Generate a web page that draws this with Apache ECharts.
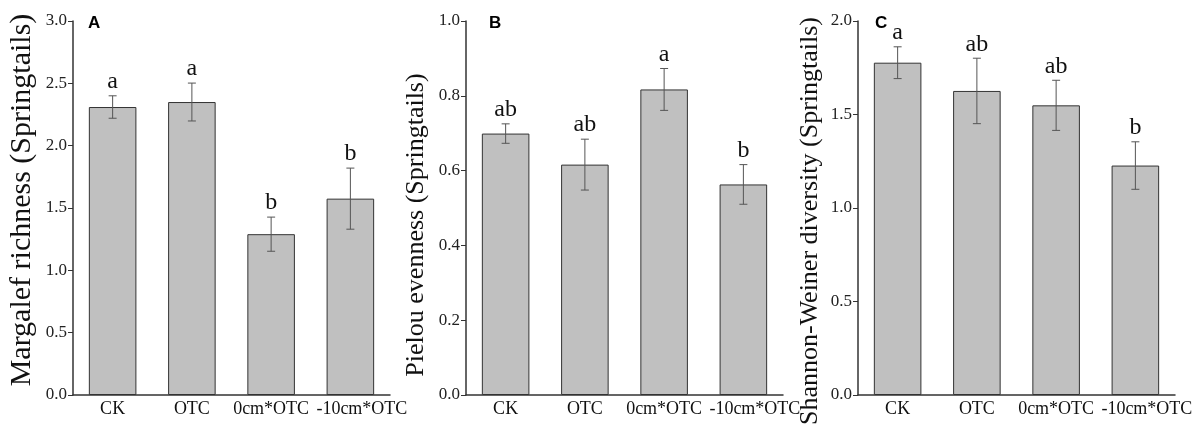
<!DOCTYPE html>
<html>
<head>
<meta charset="utf-8">
<script src="https://cdn.jsdelivr.net/npm/echarts@6/dist/echarts.min.js"></script>
<style>
html,body{margin:0;padding:0;background:#fff;}
#main{width:1198px;height:427px;}
</style>
</head>
<body>
<div id="main"></div>
<script>
var categories = ['CK', 'OTC', '0cm*OTC', '-10cm*OTC'];

var margalefMean = [2.31, 2.35, 1.29, 1.575];
var margalefErr = [0.09, 0.152, 0.137, 0.245];
var margalefLetters = ['a', 'a', 'b', 'b'];

var pielouMean = [0.699, 0.616, 0.817, 0.563];
var pielouErr = [0.026, 0.068, 0.056, 0.053];
var pielouLetters = ['ab', 'ab', 'a', 'b'];

var shannonMean = [1.777, 1.626, 1.549, 1.227];
var shannonErr = [0.085, 0.175, 0.134, 0.127];
var shannonLetters = ['a', 'ab', 'ab', 'b'];

var yTicksA = { min: 0, max: 3, interval: 0.5 };
var yTicksB = { min: 0, max: 1, interval: 0.2 };
var yTicksC = { min: 0, max: 2, interval: 0.5 };

var serif = '"Liberation Serif","Times New Roman",serif';
var sans = '"Liberation Sans",Arial,sans-serif';

var panels = [
  { mean: margalefMean, err: margalefErr, letters: margalefLetters, ticks: yTicksA,
    grid: { left: 73, right: 808, top: 21, bottom: 32 } },
  { mean: pielouMean, err: pielouErr, letters: pielouLetters, ticks: yTicksB,
    grid: { left: 466, right: 415, top: 21, bottom: 32 } },
  { mean: shannonMean, err: shannonErr, letters: shannonLetters, ticks: yTicksC,
    grid: { left: 858, right: 23, top: 21, bottom: 32 } }
];

var catData = categories.map(function (c, k) {
  return k === categories.length - 1 ? { value: c, textStyle: { padding: [0, 0, 0, 23] } } : c;
});

var grids = [], xAxes = [], yAxes = [], series = [];
panels.forEach(function (p, i) {
  grids.push(Object.assign({ containLabel: false }, p.grid));
  xAxes.push({
    type: 'category', gridIndex: i, data: catData,
    axisLine: { lineStyle: { color: '#333', width: 1.5 } },
    axisTick: { inside: true, length: 4, lineStyle: { color: '#333' } },
    axisLabel: { fontFamily: serif, fontSize: 18, color: '#111', margin: 5, interval: 0 },
    splitLine: { show: false }
  });
  yAxes.push({
    type: 'value', gridIndex: i, min: p.ticks.min, max: p.ticks.max, interval: p.ticks.interval,
    axisLine: { show: true, lineStyle: { color: '#333', width: 1.5 } },
    axisTick: { show: true, length: 5, lineStyle: { color: '#333' } },
    axisLabel: { fontFamily: serif, fontSize: 17, color: '#222', margin: 6,
      formatter: function (v) { return v.toFixed(1); } },
    splitLine: { show: false }
  });
  series.push({
    type: 'bar', xAxisIndex: i, yAxisIndex: i, data: p.mean, barWidth: '60%', z: 2,
    itemStyle: { color: '#c0c0c0', borderColor: '#333', borderWidth: 1 },
    silent: true, animation: false
  });
  var ed = p.mean.map(function (m, k) { return [k, m, p.err[k]]; });
  series.push({
    type: 'custom', xAxisIndex: i, yAxisIndex: i, data: ed, animation: false, silent: true, z: 5,
    encode: { x: 0, y: 1 },
    renderItem: function (params, api) {
      var x = api.value(0), m = api.value(1), e = api.value(2);
      var lbl = p.letters[params.dataIndex];
      var top = api.coord([x, m + e]);
      var bot = api.coord([x, m - e]);
      var hw = 4;
      var ls = { stroke: '#555', lineWidth: 1 };
      return {
        type: 'group',
        children: [
          { type: 'line', shape: { x1: top[0], y1: top[1], x2: bot[0], y2: bot[1] }, style: ls },
          { type: 'line', shape: { x1: top[0] - hw, y1: top[1], x2: top[0] + hw, y2: top[1] }, style: ls },
          { type: 'line', shape: { x1: bot[0] - hw, y1: bot[1], x2: bot[0] + hw, y2: bot[1] }, style: ls },
          { type: 'text', x: top[0], y: top[1] - 2,
            style: { text: lbl, fill: '#111', font: '24px ' + serif, textAlign: 'center', textVerticalAlign: 'bottom' } }
        ]
      };
    }
  });
});

var chart = echarts.init(document.getElementById('main'), null, { renderer: 'canvas' });
chart.setOption({
  backgroundColor: '#fff',
  animation: false,
  grid: grids, xAxis: xAxes, yAxis: yAxes, series: series,
  graphic: [
    { type: 'text', x: 22, y: 200, rotation: Math.PI / 2,
      style: { text: 'Margalef richness (Springtails)', font: '30px ' + serif, fill: '#111', textAlign: 'center', textVerticalAlign: 'middle' } },
    { type: 'text', x: 416, y: 225, rotation: Math.PI / 2,
      style: { text: 'Pielou evenness (Springtails)', font: '26px ' + serif, fill: '#111', textAlign: 'center', textVerticalAlign: 'middle' } },
    { type: 'text', x: 810, y: 221, rotation: Math.PI / 2,
      style: { text: 'Shannon-Weiner diversity (Springtails)', font: '26px ' + serif, fill: '#111', textAlign: 'center', textVerticalAlign: 'middle' } },
    { type: 'text', x: 88, y: 15, style: { text: 'A', font: 'bold 17px ' + sans, fill: '#000', textVerticalAlign: 'top' } },
    { type: 'text', x: 489, y: 15, style: { text: 'B', font: 'bold 17px ' + sans, fill: '#000', textVerticalAlign: 'top' } },
    { type: 'text', x: 875, y: 15, style: { text: 'C', font: 'bold 17px ' + sans, fill: '#000', textVerticalAlign: 'top' } }
  ]
});
</script>
</body>
</html>
